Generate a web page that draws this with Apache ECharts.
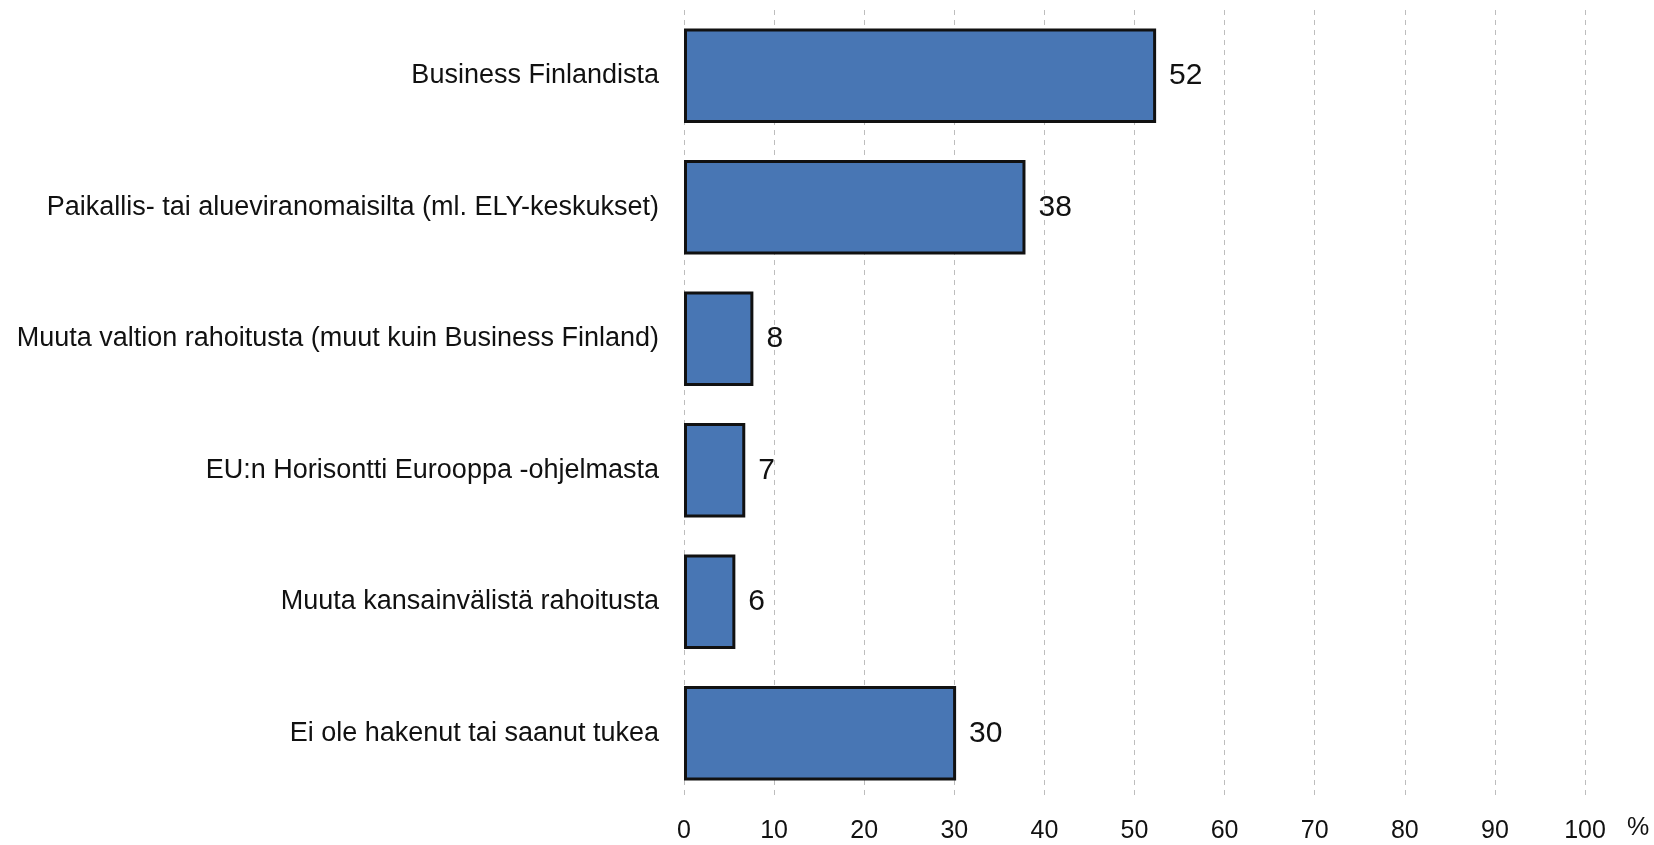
<!DOCTYPE html>
<html>
<head>
<meta charset="utf-8">
<script src="https://cdn.jsdelivr.net/npm/echarts@6/dist/echarts.min.js"></script>
<style>
  html, body { margin: 0; padding: 0; background: #fff; }
  #chart { width: 1654px; height: 845px; }
</style>
</head>
<body>
<div id="chart"></div>
<script>
'use strict';

// luokat ylhäältä alas
var categories = [
  'Business Finlandista',
  'Paikallis- tai alueviranomaisilta (ml. ELY-keskukset)',
  'Muuta valtion rahoitusta (muut kuin Business Finland)',
  'EU:n Horisontti Eurooppa -ohjelmasta',
  'Muuta kansainvälistä rahoitusta',
  'Ei ole hakenut tai saanut tukea'
];
var values = [52.4, 37.9, 7.7, 6.8, 5.7, 30.2];
var tickValues = [0, 10, 20, 30, 40, 50, 60, 70, 80, 90, 100];
var unitLabel = '%';

var fontFamily = '"Liberation Sans", Arial, sans-serif';

var chart = echarts.init(document.getElementById('chart'));

var option = {
  animation: false,
  backgroundColor: '#ffffff',
  grid: {
    left: 684,
    right: 69,
    top: 10,
    bottom: 46,
    containLabel: false
  },
  xAxis: {
    type: 'value',
    min: tickValues[0],
    max: tickValues[tickValues.length - 1],
    interval: 10,
    axisLine: { show: false },
    axisTick: { show: false },
    splitLine: {
      show: true,
      lineStyle: { color: '#bdbdbd', type: [5, 5], width: 1 }
    },
    axisLabel: {
      margin: 20,
      color: '#111',
      fontSize: 25,
      fontFamily: fontFamily
    }
  },
  yAxis: {
    type: 'category',
    data: categories,
    inverse: true,
    axisLine: { show: false },
    axisTick: { show: false },
    splitLine: { show: false },
    axisLabel: {
      margin: 25,
      color: '#111',
      fontSize: 27,
      fontFamily: fontFamily
    }
  },
  series: [{
    type: 'bar',
    data: values,
    barCategoryGap: '28%',
    itemStyle: {
      color: '#4876b4',
      borderColor: '#111',
      borderWidth: 3
    },
    label: {
      show: true,
      position: 'right',
      distance: 13,
      color: '#111',
      fontSize: 30,
      fontFamily: fontFamily,
      formatter: function (p) { return Math.round(p.value); }
    }
  }],
  graphic: []
};

chart.setOption(option);

// prosenttimerkki akselin perään
var endPt = chart.convertToPixel({ xAxisIndex: 0 }, tickValues[tickValues.length - 1]);
chart.setOption({
  graphic: [{
    type: 'text',
    left: endPt + 42,
    top: 816,
    style: {
      text: unitLabel,
      fill: '#111',
      fontSize: 25,
      fontFamily: fontFamily
    }
  }]
});
</script>
</body>
</html>
